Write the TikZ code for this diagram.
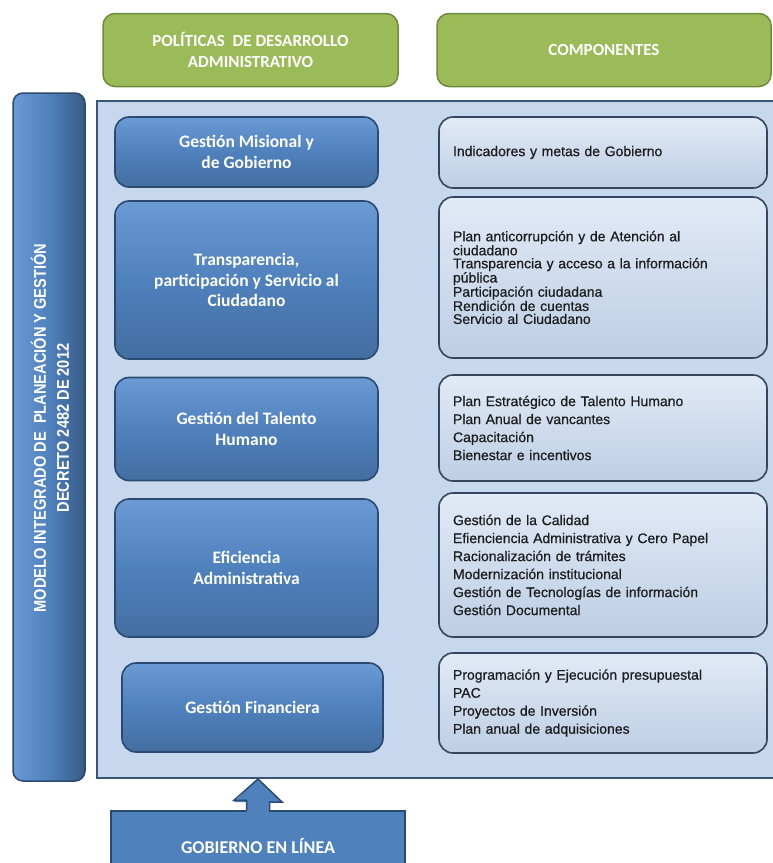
\documentclass[tikz,border=0pt]{standalone}
\usepackage{fontspec}
\setmainfont{Carlito}
\newfontfamily\arialfont[FakeBold=0.6]{Liberation Sans}
\newfontfamily\narrowfont[FakeStretch=0.86]{Liberation Sans Bold}
\usetikzlibrary{calc}

\definecolor{hdrgreen}{HTML}{9BBB59}
\definecolor{hdrgreendark}{HTML}{6F8A3C}
\definecolor{polblue}{HTML}{4F81BD}
\definecolor{polbluelight}{HTML}{6B9AD4}
\definecolor{polbluedark}{HTML}{2B4A72}
\definecolor{panelfill}{HTML}{C6D7EE}
\definecolor{paneldraw}{HTML}{3A5676}
\definecolor{compfilltop}{HTML}{E2EAF6}
\definecolor{compfillbot}{HTML}{BDCEE5}
\definecolor{compdraw}{HTML}{33465E}
\definecolor{comptext}{HTML}{1C1C1C}

\tikzset{
  hdrbox/.style={draw=hdrgreendark, line width=1.5pt, fill=hdrgreen, rounded corners=12pt,
    text=white, font=\bfseries\fontsize{17}{21}\selectfont, align=center},
  polbox/.style={draw=polbluedark, line width=1.6pt, top color=polbluelight, bottom color=polblue!85!black,
    middle color=polblue, rounded corners=14pt, text=white,
    font=\bfseries\fontsize{17.5}{20.5}\selectfont, align=center},
  compbox/.style={draw=compdraw, line width=1.6pt, top color=compfilltop, bottom color=compfillbot,
    rounded corners=14pt, text=comptext, font=\arialfont\fontsize{14}{18}\selectfont,
    align=left, text width=300pt, inner xsep=14pt},
  panelbox/.style={draw=paneldraw, line width=2pt, fill=panelfill},
  modelobox/.style={draw=polbluedark, line width=1.5pt, left color=polbluelight, right color=polblue!70!black,
    middle color=polblue, rounded corners=10pt},
  gelbox/.style={draw=polbluedark, line width=1.5pt, fill=polblue, text=white,
    font=\bfseries\fontsize{18}{22}\selectfont},
}

\begin{document}
\begin{tikzpicture}[x=1pt, y=-1pt]
  \useasboundingbox (0,0) rectangle (773,863);
  \clip (0,0) rectangle (773,863);

  % cabeceras
  \node[hdrbox, minimum width=295, minimum height=73] (politicas) at (250.5,50) {POLÍTICAS \ DE DESARROLLO\\ADMINISTRATIVO};
  \node[hdrbox, minimum width=334, minimum height=73] (componentes) at (604,50) {COMPONENTES};

  % modelo
  \node[modelobox, minimum width=72, minimum height=688] (modelo) at (49,437) {};
  \node[rotate=90, text=white, align=center, font=\narrowfont\fontsize{17}{23}\selectfont]
    (modelotxt) at (50,428) {MODELO INTEGRADO DE \ PLANEACIÓN Y GESTIÓN\\DECRETO 2482 DE 2012};

  \node[panelbox, minimum width=693, minimum height=677] (panel) at (443.5,439.5) {};

  % politicas
  \foreach \n/\cx/\cy/\w/\h/\txt in {%
    1/246.5/152/263/70/{Gestión Misional y\\de Gobierno},
    2/246.5/280/263/158/{Transparencia,\\participación y Servicio al\\Ciudadano},
    3/246.5/429/263/103/{Gestión del Talento\\Humano},
    4/246.5/568/263/138/{Eficiencia\\Administrativa},
    5/252.5/707.5/261/89/{Gestión Financiera}} {
    \node[polbox, minimum width=\w, minimum height=\h] (pol\n) at (\cx,\cy) {\txt};
  }

  % componentes
  \node[compbox, minimum height=71] (comp1) at (603,152.5) {Indicadores y metas de Gobierno};
  \node[compbox, minimum height=161, font=\arialfont\fontsize{14}{13}\selectfont] (comp2) at (603,277.5)
    {Plan anticorrupción y de Atención al\\ciudadano\\Transparencia y acceso a la información\\pública\\Participación ciudadana\\Rendición de cuentas\\Servicio al Ciudadano};
  \node[compbox, minimum height=106] (comp3) at (603,428)
    {Plan Estratégico de Talento Humano\\Plan Anual de vancantes\\Capacitación\\Bienestar e incentivos};
  \node[compbox, minimum height=144] (comp4) at (603,565)
    {Gestión de la Calidad\\Efienciencia Administrativa y Cero Papel\\Racionalización de trámites\\Modernización institucional\\Gestión de Tecnologías de información\\Gestión Documental};
  \node[compbox, minimum height=100] (comp5) at (603,703)
    {Programación y Ejecución presupuestal\\PAC\\Proyectos de Inversión\\Plan anual de adquisiciones};

  % gobierno en linea
  \node[gelbox, minimum width=294, minimum height=69] (gel) at (258,845.5) {GOBIERNO EN LÍNEA};
  \coordinate (tip) at (panel.south -| gel.north);
  \fill[polblue] (tip) -- ++(24,23) -- ++(-12.5,0) -- ++(0,12) -- ++(-23,0) -- ++(0,-12) -- ++(-12.5,0) -- cycle;
  \draw[polbluedark, line width=1.5pt, line join=miter] ($(gel.north)+(-11.5,0)$) -- ++(0,-10) -- ++(-12.5,0)
    -- (tip) -- ++(24,23) -- ++(-12.5,0) -- ++(0,10);
\end{tikzpicture}
\end{document}
